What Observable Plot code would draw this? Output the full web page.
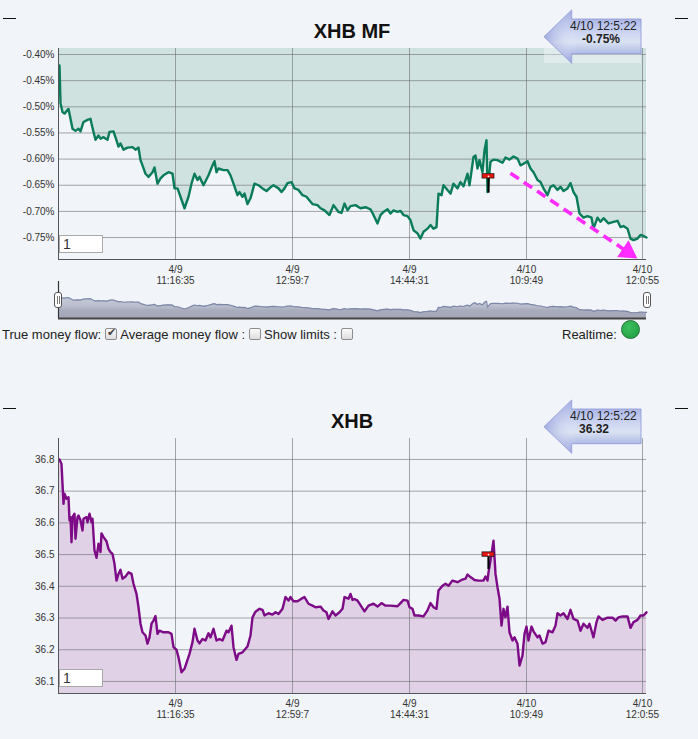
<!DOCTYPE html>
<html><head><meta charset="utf-8">
<script src="https://cdn.jsdelivr.net/npm/d3@7"></script>
<script src="https://cdn.jsdelivr.net/npm/@observablehq/plot@0.6"></script>
<style>
html,body{margin:0;padding:0;background:#f1f4f8;width:698px;height:739px;overflow:hidden;font-family:Arial,"Liberation Sans",sans-serif;}
.abs{position:absolute;}
.title{position:absolute;left:3px;width:698px;text-align:center;font-weight:bold;font-size:20px;line-height:20px;color:#111;}
.dash{position:absolute;width:13px;height:1px;background:#111;}
.inp{position:absolute;width:44px;height:18px;background:#fff;border:1px solid #a9a9a9;font-size:14px;line-height:16px;padding-left:3px;box-sizing:border-box;color:#333;}
.row{position:absolute;top:328px;font-size:13px;line-height:13px;color:#222;white-space:nowrap;}
.cb{display:inline-block;width:10px;height:10px;border:1px solid #8d8d8d;background:linear-gradient(#fbfbfb,#dedede);border-radius:2px;vertical-align:-1px;position:relative;margin:0 3px 0 4px;}
.cb.on::after{content:"\2714";position:absolute;left:1px;top:-3px;font-size:11px;color:#444;}
.handle{position:absolute;width:6px;height:14px;background:#fff;border:1px solid #555;border-radius:3px;}
.handle::before{content:"";position:absolute;left:1.5px;top:3px;width:1px;height:8px;background:#777;}
.handle::after{content:"";position:absolute;left:3.5px;top:3px;width:1px;height:8px;background:#777;}
</style></head>
<body>
<div id="root"></div>
<script>
// ---- data ----
const xTicks = [117, 234, 351, 468, 584];
const xTickLabels = ["4/9\n11:16:35", "4/9\n12:59:7", "4/9\n14:44:31", "4/10\n10:9:49", "4/10\n12:0:55"];
const mfTicks = [-0.75, -0.70, -0.65, -0.60, -0.55, -0.50, -0.45, -0.40];
const priceTicks = [36.1, 36.2, 36.3, 36.4, 36.5, 36.6, 36.7, 36.8];

const mfT = [
1,2,4,6,10,12,14,17,20,22,
25,29,32,33,35,37,40,42,45,49,
51,55,58,60,62,65,69,74,77,80,
82,84,87,90,94,96,99,102,105,110,
114,116,119,122,126,130,133,136,139,141,
145,150,154,156,158,160,165,169,172,175,
179,181,184,186,189,192,196,200,204,208,
212,215,220,223,226,229,233,236,240,244,
248,251,254,259,262,266,271,275,280,283,
286,289,292,297,302,307,312,315,319,322,
325,329,332,335,339,342,345,349,352,355,
359,362,365,369,372,375,378,380,383,385,
389,392,395,399,402,405,409,411,415,417,
419,421,424,426,428,429,432,435,439,444,
447,451,455,459,462,465,469,472,475,479,
482,485,489,492,495,499,502,505,509,512,
515,518,521,525,529,533,535,539,542,545,
550,555,559,562,565,569,572,575,579,582,
585,588];
const mfV = [
-0.421,-0.493,-0.510,-0.513,-0.504,-0.523,-0.542,-0.546,-0.542,-0.547,
-0.529,-0.525,-0.523,-0.532,-0.548,-0.563,-0.555,-0.561,-0.558,-0.563,
-0.548,-0.547,-0.564,-0.576,-0.570,-0.582,-0.578,-0.577,-0.582,-0.578,
-0.602,-0.612,-0.628,-0.634,-0.625,-0.616,-0.647,-0.637,-0.631,-0.625,
-0.628,-0.656,-0.656,-0.672,-0.694,-0.672,-0.647,-0.628,-0.640,-0.634,
-0.650,-0.631,-0.612,-0.604,-0.625,-0.618,-0.621,-0.621,-0.631,-0.647,
-0.669,-0.663,-0.672,-0.666,-0.686,-0.675,-0.647,-0.650,-0.656,-0.661,
-0.654,-0.650,-0.656,-0.663,-0.656,-0.646,-0.644,-0.656,-0.659,-0.669,
-0.672,-0.679,-0.686,-0.688,-0.694,-0.698,-0.707,-0.688,-0.701,-0.703,
-0.685,-0.698,-0.690,-0.688,-0.694,-0.692,-0.696,-0.707,-0.723,-0.707,
-0.701,-0.696,-0.704,-0.698,-0.701,-0.699,-0.707,-0.709,-0.717,-0.736,
-0.742,-0.752,-0.739,-0.733,-0.726,-0.733,-0.730,-0.666,-0.669,-0.650,
-0.659,-0.666,-0.647,-0.656,-0.644,-0.652,-0.628,-0.650,-0.596,-0.593,
-0.618,-0.602,-0.625,-0.583,-0.564,-0.663,-0.605,-0.601,-0.602,-0.607,
-0.597,-0.601,-0.595,-0.599,-0.612,-0.609,-0.604,-0.618,-0.625,-0.640,
-0.644,-0.656,-0.669,-0.653,-0.650,-0.659,-0.653,-0.661,-0.656,-0.646,
-0.663,-0.672,-0.704,-0.712,-0.709,-0.712,-0.733,-0.712,-0.720,-0.713,
-0.723,-0.720,-0.718,-0.730,-0.728,-0.733,-0.752,-0.755,-0.752,-0.745,
-0.747,-0.750];

const priceT = [
1,3,4,5,6,8,10,11,12,13,
14,16,17,19,20,22,24,25,28,29,
31,33,34,36,38,40,42,43,45,48,
50,52,54,56,58,60,62,64,67,70,
73,75,78,80,82,84,87,89,91,93,
95,97,99,101,105,110,113,115,118,120,
123,126,129,131,134,136,139,141,144,147,
150,152,155,158,161,164,168,170,173,175,
178,180,184,189,192,194,197,201,204,206,
210,214,217,220,224,227,230,232,235,239,
243,246,250,254,257,262,265,268,270,274,
277,281,284,286,290,292,294,296,299,300,
306,310,315,319,323,327,332,339,342,345,
349,351,354,356,360,365,369,372,375,378,
380,384,387,390,394,399,403,407,409,412,
416,420,425,427,429,430,432,435,437,439,
441,443,445,447,449,451,454,456,459,461,
464,466,468,470,473,475,479,481,484,487,
490,494,497,499,502,505,509,512,515,519,
522,525,529,531,535,538,540,544,549,554,
557,560,564,569,572,575,579,582,585,588];
const priceV = [
36.800,36.786,36.723,36.660,36.692,36.676,36.681,36.608,36.618,36.539,
36.618,36.629,36.550,36.618,36.623,36.608,36.576,36.613,36.618,36.602,
36.629,36.602,36.613,36.513,36.490,36.534,36.508,36.567,36.555,36.542,
36.518,36.508,36.502,36.471,36.418,36.439,36.452,36.424,36.431,36.444,
36.439,36.408,36.376,36.334,36.282,36.255,36.245,36.219,36.239,36.282,
36.292,36.306,36.250,36.260,36.255,36.255,36.250,36.208,36.200,36.176,
36.129,36.140,36.168,36.187,36.224,36.266,36.229,36.220,36.234,36.229,
36.252,36.239,36.266,36.229,36.234,36.229,36.260,36.255,36.276,36.208,
36.168,36.187,36.192,36.210,36.245,36.302,36.320,36.329,36.326,36.308,
36.315,36.311,36.318,36.313,36.329,36.366,36.355,36.366,36.353,36.353,
36.361,36.366,36.345,36.339,36.334,36.336,36.324,36.318,36.297,36.321,
36.308,36.318,36.329,36.366,36.361,36.376,36.357,36.360,36.355,36.350,
36.321,36.339,36.345,36.336,36.347,36.339,36.339,36.337,36.347,36.357,
36.355,36.334,36.329,36.308,36.308,36.305,36.324,36.347,36.334,36.329,
36.387,36.402,36.408,36.402,36.418,36.413,36.420,36.424,36.437,36.429,
36.420,36.418,36.418,36.431,36.418,36.444,36.481,36.544,36.439,36.397,
36.361,36.276,36.329,36.302,36.336,36.255,36.229,36.239,36.219,36.150,
36.182,36.250,36.273,36.229,36.273,36.258,36.239,36.245,36.219,36.224,
36.260,36.255,36.276,36.315,36.308,36.315,36.297,36.326,36.297,36.292,
36.260,36.282,36.269,36.282,36.239,36.287,36.305,36.294,36.301,36.301,
36.292,36.302,36.305,36.305,36.269,36.287,36.294,36.308,36.308,36.318];

// event flag (time index, flag level, stem end) for each chart
const flagT = [430];
const flagMF = [-0.633];
const flagMFLow = [-0.665];
const flagPrice = [36.500];
const flagPriceLow = [36.453];
// hand-drawn trend arrow on the money-flow chart
const trendT = [452, 575];
const trendMF = [-0.627, -0.785];

// ---- build ----
const FONT = 'Arial, "Liberation Sans", sans-serif';
const GRID = {stroke: "#6a6e74", strokeOpacity: 0.6};
const labelOf = new Map(xTicks.map((t, i) => [t, xTickLabels[i]]));
const mf = mfT.map((t, i) => ({t, v: mfV[i]}));
const price = priceT.map((t, i) => ({t, v: priceV[i]}));
const mfDomain = [-0.792, -0.3885];
const pDomain = [36.062, 36.866];
const root = document.getElementById("root");

function place(el, top) {
  el.style.position = "absolute"; el.style.left = "0px"; el.style.top = top + "px";
  root.appendChild(el);
}

const mfFlags = flagT.map((t, i) => ({t, hi: flagMF[i], lo: flagMFLow[i]}));
const pFlags = flagT.map((t, i) => ({t, hi: flagPrice[i], lo: flagPriceLow[i]}));
const trend = [{x1: trendT[0], y1: trendMF[0], x2: trendT[1], y2: trendMF[1]}];
const ang = Math.atan2(83, 123); // screen direction of the arrow, for the head

function flagMarks(flags) {
  return [
    Plot.ruleX(flags, {x: "t", y1: "hi", y2: "lo", stroke: "#000", strokeWidth: 2.2}),
    Plot.rect(flags, {x1: d => d.t - 6, x2: d => d.t + 6, y1: "hi", y2: "hi", insetTop: -2.2, insetBottom: -2.2, fill: "#e8140f", stroke: "#222", strokeWidth: 0.8}),
    Plot.dot(flags, {x: "t", y: "hi", r: 0.9, fill: "#fff"})
  ];
}

const topChart = Plot.plot({
  width: 698, height: 252, marginTop: 8, marginBottom: 33, marginLeft: 58, marginRight: 52,
  style: {background: "transparent", fontFamily: FONT, fontSize: "10px", color: "#333", overflow: "visible"},
  x: {domain: [0, 588], label: null},
  y: {domain: mfDomain, label: null},
  marks: [
    Plot.areaY(mf, {x: "t", y1: "v", y2: mfDomain[1], fill: "#cfe2e0"}),
    Plot.gridY(mfTicks, GRID),
    Plot.gridX(xTicks, GRID),
    Plot.line(mf, {x: "t", y: "v", stroke: "#0b7c59", strokeWidth: 2.4}),
    ...flagMarks(mfFlags),
    Plot.link(trend, {x1: "x1", y1: "y1", x2: "x2", y2: "y2", stroke: "#ff2bff", strokeWidth: 3.6, strokeDasharray: "10,6"}),
    Plot.dot([trend[0]], {x: "x2", y: "y2", symbol: "triangle", r: 7.5, fill: "#ff2bff", stroke: "none",
      rotate: ang * 180 / Math.PI + 90, dx: -7 * Math.cos(ang), dy: -7 * Math.sin(ang)}),
    Plot.ruleX([0], {stroke: "#555"}),
    Plot.ruleY([mfDomain[0]], {stroke: "#555"}),
    Plot.axisY(mfTicks, {tickSize: 0, tickPadding: 4, tickFormat: d => d.toFixed(2) + "%", label: null}),
    Plot.axisX(xTicks, {tickSize: 0, tickPadding: 6, tickFormat: d => labelOf.get(d), label: null, lineHeight: 1.1})
  ]
});
place(topChart, 40);

const nav = Plot.plot({
  width: 698, height: 38, marginTop: 0, marginBottom: 1, marginLeft: 58, marginRight: 52,
  style: {background: "transparent", overflow: "visible"},
  x: {domain: [0, 588], axis: null},
  y: {domain: [-0.85, -0.24], axis: null},
  marks: [
    Plot.areaY(mf, {x: "t", y1: -0.85, y2: "v", fill: "url(#navgrad)"}),
    Plot.line(mf, {x: "t", y: "v", stroke: "#7d88a8", strokeWidth: 1.2}),
    Plot.ruleX([0], {stroke: "#333", strokeWidth: 1.2}),
    Plot.ruleY([-0.85], {stroke: "#444", strokeWidth: 2})
  ]
});
nav.insertAdjacentHTML("afterbegin", '<defs><linearGradient id="navgrad" x1="0" y1="0" x2="0" y2="1"><stop offset="0" stop-color="#cdd1de"/><stop offset="0.55" stop-color="#b9bdcd"/><stop offset="0.7" stop-color="#a9acbc"/><stop offset="1" stop-color="#a4a7b7"/></linearGradient></defs>');
place(nav, 281);

const botChart = Plot.plot({
  width: 698, height: 300, marginTop: 8, marginBottom: 37, marginLeft: 58, marginRight: 52,
  style: {background: "transparent", fontFamily: FONT, fontSize: "10px", color: "#333", overflow: "visible"},
  x: {domain: [0, 588], label: null},
  y: {domain: pDomain, label: null},
  marks: [
    Plot.areaY(price, {x: "t", y1: pDomain[0], y2: "v", fill: "#e0d1e6"}),
    Plot.gridY(priceTicks, GRID),
    Plot.gridX(xTicks, GRID),
    Plot.line(price, {x: "t", y: "v", stroke: "#7d0a87", strokeWidth: 2.4}),
    ...flagMarks(pFlags),
    Plot.ruleX([0], {stroke: "#555"}),
    Plot.ruleY([pDomain[0]], {stroke: "#555"}),
    Plot.axisY(priceTicks, {tickSize: 0, tickPadding: 4, tickFormat: d => d.toFixed(1), label: null}),
    Plot.axisX(xTicks, {tickSize: 0, tickPadding: 6, tickFormat: d => labelOf.get(d), label: null, lineHeight: 1.1})
  ]
});
place(botChart, 430);

// ---- decorations / HTML chrome ----
function badge(top, l1, l2, l2x, id) {
  return `<svg class="abs" style="left:540px;top:${top}px;overflow:visible" width="106" height="56">
  <defs>
   <linearGradient id="bg${id}" x1="0" y1="0" x2="0" y2="1">
    <stop offset="0" stop-color="#97a3e0"/><stop offset="0.45" stop-color="#cfd7f2"/>
    <stop offset="0.6" stop-color="#d9e2f2"/><stop offset="1" stop-color="#8d99da"/></linearGradient>
   <linearGradient id="bh${id}" x1="0" y1="0" x2="1" y2="0">
    <stop offset="0" stop-color="#8793d6" stop-opacity="0.7"/><stop offset="0.35" stop-color="#ffffff" stop-opacity="0"/>
    <stop offset="1" stop-color="#ffffff" stop-opacity="0"/></linearGradient>
  </defs>
  <path d="M4 26.7 L31.7 0 L31.7 9 L101 9 L101 43.7 L31.7 43.7 L31.7 53.3 Z" fill="url(#bg${id})" stroke="#8a96d8" stroke-width="0.8"/>
  <path d="M4 26.7 L31.7 0 L31.7 9 L101 9 L101 43.7 L31.7 43.7 L31.7 53.3 Z" fill="url(#bh${id})"/>
  <text x="30" y="19.5" font-family='${FONT}' font-size="12" fill="#222">${l1}</text>
  <text x="${l2x}" y="33.3" font-family='${FONT}' font-size="12" font-weight="bold" fill="#222">${l2}</text>
  </svg>`;
}

root.insertAdjacentHTML("beforeend", `
<div class="title" style="top:21px">XHB MF</div>
<div class="title" style="top:411px">XHB</div>
<div class="dash" style="left:3px;top:18px"></div>
<div class="dash" style="left:675px;top:18px"></div>
<div class="dash" style="left:3px;top:408px"></div>
<div class="dash" style="left:675px;top:408px"></div>
<div class="abs" style="left:544px;top:48px;width:97px;height:15px;background:rgba(255,255,255,0.35)"></div>
${badge(10, "4/10 12:5:22", "-0.75%", 42, "a")}
${badge(400, "4/10 12:5:22", "36.32", 39, "b")}
<div class="inp" style="left:59px;top:235px">1</div>
<div class="inp" style="left:59px;top:669px">1</div>
<div class="handle" style="left:54px;top:292px"></div>
<div class="handle" style="left:643px;top:292px"></div>
<div class="row" style="left:2px">True money flow:<span class="cb on"></span>Average money flow :<span class="cb"></span>Show limits :<span class="cb"></span></div>
<div class="row" style="left:562px">Realtime:</div>
<div class="abs" style="left:621px;top:320px;width:17px;height:17px;border-radius:50%;background:radial-gradient(circle at 40% 35%,#3cc060,#1f9a3e);border:1px solid #1d6e31"></div>
`);
</script>
</body></html>
